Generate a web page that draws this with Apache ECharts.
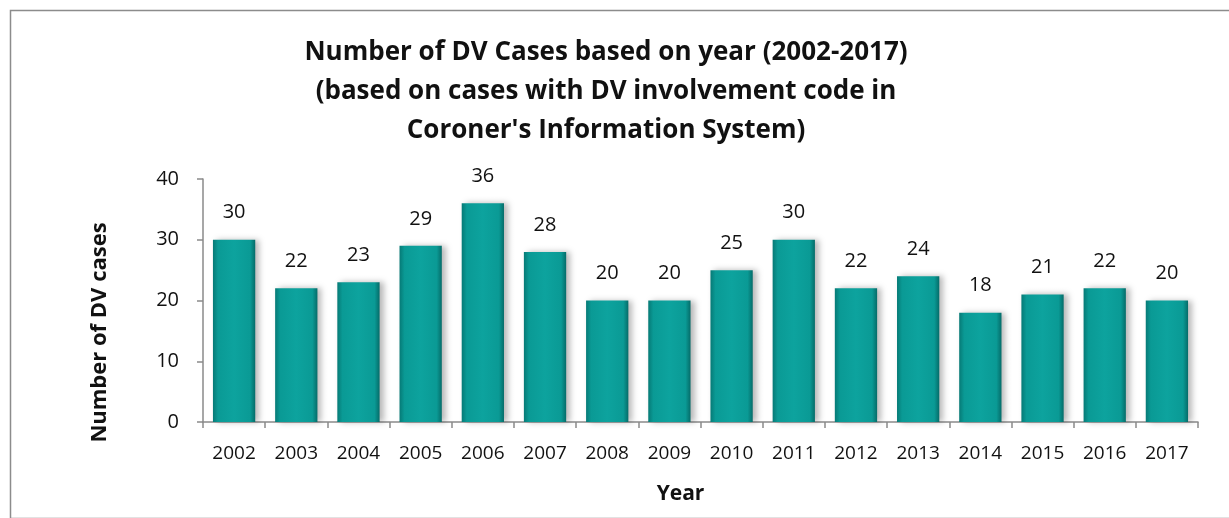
<!DOCTYPE html>
<html>
<head>
<meta charset="utf-8">
<script src="https://cdn.jsdelivr.net/npm/echarts@6/dist/echarts.min.js"></script>
<style>html,body{margin:0;padding:0;background:#fff;}#c{width:1229px;height:518px;}</style>
</head>
<body>
<div id="c"></div>
<script>
const years = ['2002','2003','2004','2005','2006','2007','2008','2009','2010','2011','2012','2013','2014','2015','2016','2017'];
const cases = [30,22,23,29,36,28,20,20,25,30,22,24,18,21,22,20];
const titleText = "Number of DV Cases based on year (2002-2017)\n(based on cases with DV involvement code in\nCoroner's Information System)";
const yAxisName = 'Number of DV cases';
const xAxisName = 'Year';

const FONT = '"Open Sans", "Liberation Sans", sans-serif';
const chart = echarts.init(document.getElementById('c'));
chart.setOption({
  backgroundColor: '#fff',
  animation: false,
  graphic: [{
    type: 'rect', left: 8, top: 8, silent: true,
    shape: { width: 1240, height: 508 },
    style: { fill: 'none', stroke: '#8c8c8c', lineWidth: 1.5 }
  }],
  title: {
    text: titleText, left: 601, top: 28, textAlign: 'center',
    textStyle: { fontFamily: FONT, fontWeight: 'bold', fontSize: 26, lineHeight: 39, color: '#111' }
  },
  grid: { left: 203, right: 31, top: 179, bottom: 96 },
  xAxis: {
    type: 'category', data: years,
    name: xAxisName, nameLocation: 'middle', nameGap: 62,
    nameTextStyle: { fontFamily: FONT, fontWeight: 'bold', fontSize: 21, color: '#111', padding: [0, 40, 0, 0] },
    axisLine: { lineStyle: { color: '#8a8a8a', width: 1.5 } },
    axisTick: { show: true, length: 6, lineStyle: { color: '#8a8a8a', width: 1.5 } },
    axisLabel: { fontFamily: FONT, fontSize: 19, color: '#111', margin: 22 }
  },
  yAxis: {
    type: 'value', min: 0, max: 40, interval: 10,
    name: yAxisName, nameLocation: 'middle', nameGap: 92, nameRotate: 90,
    nameTextStyle: { fontFamily: FONT, fontWeight: 'bold', fontSize: 22, color: '#111', padding: [0, 0, 0, -64] },
    axisLine: { show: true, lineStyle: { color: '#8a8a8a', width: 1.5 } },
    axisTick: { show: true, length: 6, lineStyle: { color: '#8a8a8a', width: 1.5 } },
    axisLabel: { fontFamily: FONT, fontSize: 20, color: '#111', margin: 24 },
    splitLine: { show: false }
  },
  series: [{
    type: 'bar', data: cases, barCategoryGap: '32%',
    itemStyle: {
      color: new echarts.graphic.LinearGradient(0, 0, 1, 0, [
        { offset: 0, color: '#067a76' },
        { offset: 0.12, color: '#0a9a95' },
        { offset: 0.5, color: '#0da39e' },
        { offset: 0.88, color: '#0a9a95' },
        { offset: 1, color: '#056c69' }
      ]),
      shadowColor: 'rgba(0,0,0,0.28)', shadowBlur: 6, shadowOffsetX: 4, shadowOffsetY: 0
    },
    label: { show: true, position: 'top', distance: 17, fontFamily: FONT, fontSize: 20, color: '#111' }
  }]
});
</script>
</body>
</html>
